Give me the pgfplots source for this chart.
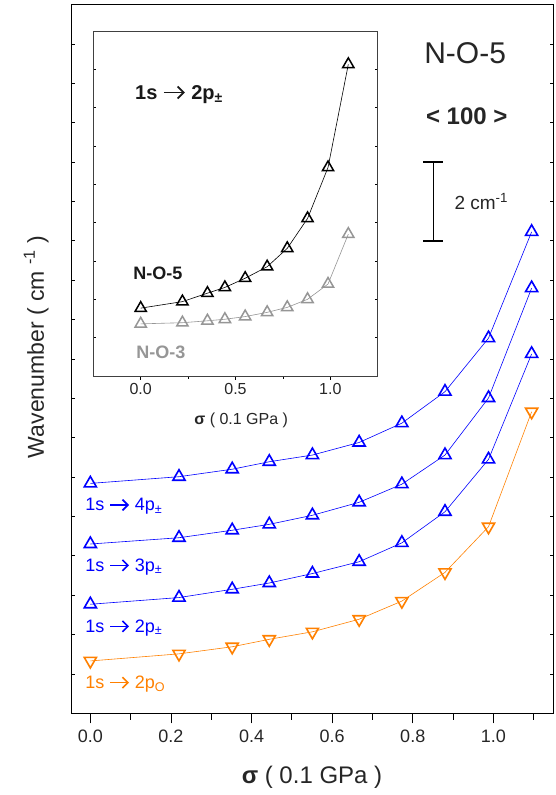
\documentclass[border=0pt]{standalone}
\usepackage{pgfplots}
\pgfplotsset{compat=1.18}
\usetikzlibrary{arrows.meta}
\usepackage{fontspec}
\setmainfont{Liberation Sans}
\definecolor{serblue}{RGB}{0,0,255}
\definecolor{serorange}{RGB}{255,128,0}
\definecolor{sergray}{RGB}{150,150,150}
% heavy arrow as in the labels
\newcommand{\arr}{\tikz[baseline=-0.33em]\draw[line width=0.09em, -{Straight Barb[length=0.3em, width=0.6em, line width=0.09em]}] (0,0) -- (1.05em,0);}

\begin{document}
\begin{tikzpicture}
% page frame (origin = lower left corner of main axis)
\path (-71pt,-81.7pt) rectangle (484pt,713.3pt);

\begin{axis}[
  at={(0pt,0pt)}, anchor=south west, scale only axis,
  width=482pt, height=708.6pt,
  xmin=-0.048, xmax=1.148, ymin=0, ymax=18,
  axis line style={line width=1pt},
  xtick={0,0.2,0.4,0.6,0.8,1.0},
  minor xtick={0.1,0.3,0.5,0.7,0.9,1.1},
  xtick pos=bottom, xtick align=outside,
  ytick={1,...,17}, yticklabels={}, ytick pos=both, ytick align=inside,
  major tick length=10pt, minor tick length=6.5pt,
  tick style={line width=0.8pt, black},
  ytick style={/pgfplots/major tick length=3.5pt},
  xticklabel style={/pgf/number format/.cd, fixed, fixed zerofill, precision=1, assume math mode=true},
  tick label style={font=\fontsize{18}{20}\selectfont, text=black!85},
  xticklabel shift=3pt,
  xlabel={\textbf{σ} ( 0.1 GPa )},
  xlabel style={font=\fontsize{24}{28}\selectfont, text=black!85, at={(axis description cs:0.5,-0.09)}, anchor=center},
  ylabel={Wavenumber ( cm \textsuperscript{-1} )},
  ylabel style={font=\fontsize{23}{26}\selectfont, text=black!85, at={(axis description cs:-0.072,0.517)}, anchor=center},
  every axis plot/.append style={line width=0.6pt},
]
\addplot[serblue, mark=triangle, mark size=7pt, mark options={line width=1.6pt, fill=white}]
  coordinates {(0,5.84) (0.22,6.01) (0.352,6.20) (0.444,6.39) (0.551,6.56) (0.667,6.88) (0.773,7.37) (0.880,8.17) (0.988,9.53) (1.095,12.23)};
\addplot[serblue, mark=triangle, mark size=7pt, mark options={line width=1.6pt, fill=white}]
  coordinates {(0,4.30) (0.22,4.46) (0.352,4.65) (0.444,4.80) (0.551,5.03) (0.667,5.36) (0.773,5.82) (0.880,6.56) (0.988,8.01) (1.095,10.80)};
\addplot[serblue, mark=triangle, mark size=7pt, mark options={line width=1.6pt, fill=white}]
  coordinates {(0,2.77) (0.22,2.94) (0.352,3.15) (0.444,3.31) (0.551,3.55) (0.667,3.85) (0.773,4.33) (0.880,5.12) (0.988,6.45) (1.095,9.13)};
\addplot[serorange, mark=triangle, mark size=7pt, mark options={line width=1.6pt, fill=white, rotate=180}]
  coordinates {(0,1.33) (0.22,1.51) (0.352,1.69) (0.444,1.88) (0.551,2.07) (0.667,2.39) (0.773,2.85) (0.880,3.58) (0.988,4.74) (1.095,7.66)};

\node[anchor=west, serblue, font=\fontsize{18}{20}\selectfont, inner sep=0pt] at (axis cs:-0.013,5.25) {1s \arr{} 4p\textsubscript{±}};
\node[anchor=west, serblue, font=\fontsize{18}{20}\selectfont, inner sep=0pt] at (axis cs:-0.013,3.72) {1s \arr{} 3p\textsubscript{±}};
\node[anchor=west, serblue, font=\fontsize{18}{20}\selectfont, inner sep=0pt] at (axis cs:-0.013,2.17) {1s \arr{} 2p\textsubscript{±}};
\node[anchor=west, serorange, font=\fontsize{18}{20}\selectfont, inner sep=0pt] at (axis cs:-0.013,0.74) {1s \arr{} 2p\textsubscript{O}};

\node[font=\fontsize{30}{34}\selectfont, text=black!85] at (axis cs:0.93,16.78) {N-O-5};
\node[font=\bfseries\fontsize{24}{28}\selectfont, text=black!85] at (axis cs:0.934,15.17) {< 100 >};
\draw[line width=1.6pt] (axis cs:0.851,12) -- (axis cs:0.851,14);
\draw[line width=1.6pt] (axis cs:0.826,12) -- (axis cs:0.876,12);
\draw[line width=1.6pt] (axis cs:0.826,14) -- (axis cs:0.876,14);
\node[anchor=west, font=\fontsize{19}{22}\selectfont, text=black!85] at (axis cs:0.895,13.0) {2 cm\textsuperscript{-1}};
\end{axis}

% inset
\begin{axis}[
  at={(22.3pt,337.3pt)}, anchor=south west, scale only axis,
  width=284.4pt, height=345pt,
  xmin=-0.25, xmax=1.25, ymin=0, ymax=9,
  axis background/.style={fill=white},
  axis line style={line width=0.9pt, black!75},
  xtick={0,0.5,1}, minor xtick={0.25,0.75},
  xtick pos=bottom, xtick align=outside,
  ytick={1,...,8}, yticklabels={}, ytick pos=both, ytick align=inside,
  major tick length=4pt, minor tick length=3pt,
  tick style={line width=0.8pt, black},
  ytick style={/pgfplots/major tick length=3pt},
  xticklabel style={/pgf/number format/.cd, fixed, fixed zerofill, precision=1, assume math mode=true},
  tick label style={font=\fontsize{16}{18}\selectfont, text=black!85},
  xlabel={\textbf{σ} ( 0.1 GPa )},
  xlabel style={font=\fontsize{16}{18}\selectfont, text=black!85, at={(axis description cs:0.52,-0.13)}, anchor=center},
  every axis plot/.append style={line width=0.6pt},
]
\addplot[black, mark=triangle, mark size=6.5pt, mark options={line width=1.5pt, fill=white}]
  coordinates {(0,1.77) (0.22,1.94) (0.352,2.16) (0.444,2.31) (0.551,2.55) (0.667,2.85) (0.773,3.33) (0.880,4.11) (0.988,5.44) (1.095,8.13)};
\addplot[sergray, mark=triangle, mark size=6.5pt, mark options={line width=1.5pt, fill=white}]
  coordinates {(0,1.36) (0.22,1.39) (0.352,1.44) (0.444,1.48) (0.551,1.55) (0.667,1.66) (0.773,1.79) (0.880,2.00) (0.988,2.40) (1.095,3.70)};

\node[anchor=west, font=\bfseries\fontsize{20}{22}\selectfont, inner sep=0pt, text=black!90] at (axis cs:-0.03,7.35) {1s \arr{} 2p\textsubscript{±}};
\node[font=\bfseries\fontsize{18}{20}\selectfont, text=black!90] at (axis cs:0.09,2.69) {N-O-5};
\node[font=\bfseries\fontsize{18}{20}\selectfont, text=sergray] at (axis cs:0.107,0.61) {N-O-3};
\end{axis}
\end{tikzpicture}
\end{document}
